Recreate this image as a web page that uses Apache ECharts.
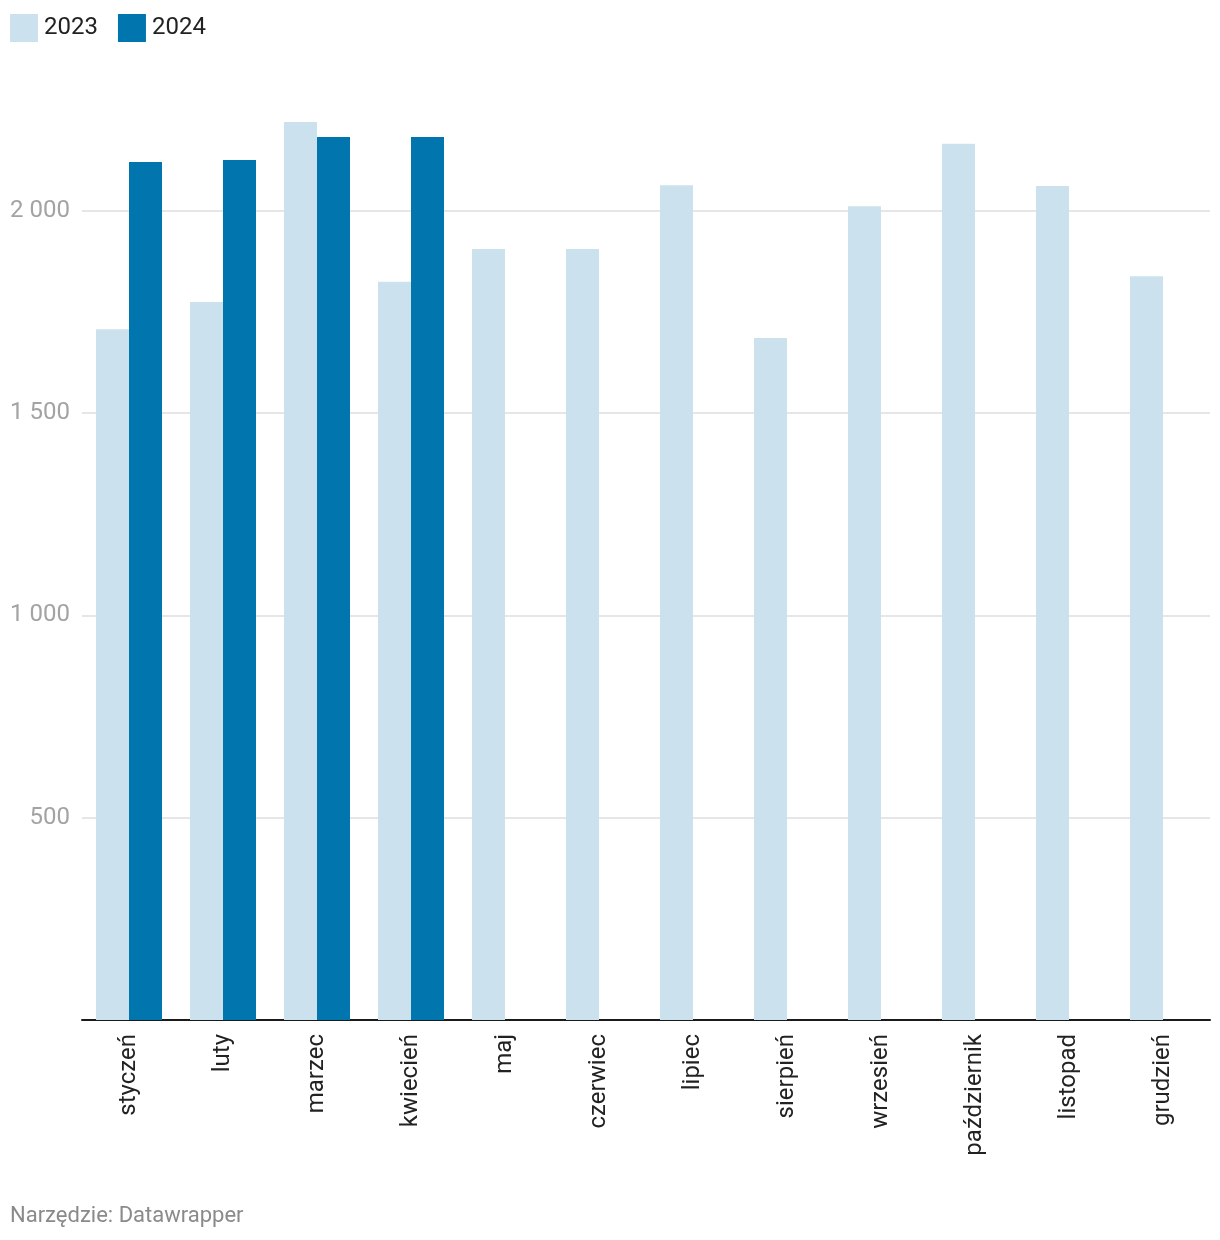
<!DOCTYPE html>
<html>
<head>
<meta charset="utf-8">
<script src="https://cdn.jsdelivr.net/npm/echarts@6/dist/echarts.min.js"></script>
<style>
  html, body { margin: 0; padding: 0; background: #ffffff; }
  #chart { width: 1220px; height: 1240px; }
</style>
</head>
<body>
<div id="chart"></div>
<script>
const categories = ['styczeń', 'luty', 'marzec', 'kwiecień', 'maj', 'czerwiec', 'lipiec', 'sierpień', 'wrzesień', 'październik', 'listopad', 'grudzień'];
const values2023 = [1707, 1774, 2219, 1824, 1905, 1905, 2063, 1685, 2011, 2165, 2061, 1838];
const values2024 = [2120, 2125, 2182, 2182, null, null, null, null, null, null, null, null];
const seriesNames = ['2023', '2024'];
const footerText = 'Narzędzie: Datawrapper';

const FONT = 'Roboto, "Noto Sans", sans-serif';
const chart = echarts.init(document.getElementById('chart'), null, { renderer: 'canvas' });

function fmt(v) {
  return String(v).replace(/\B(?=(\d{3})+(?!\d))/g, ' ');
}

chart.setOption({
  animation: false,
  backgroundColor: '#ffffff',
  textStyle: { fontFamily: FONT },
  legend: {
    left: 10,
    top: 14,
    padding: 0,
    icon: 'rect',
    itemWidth: 28,
    itemHeight: 28,
    itemGap: 20,
    textStyle: { fontFamily: FONT, fontSize: 24, color: '#222222', padding: [0, 0, 0, 1] },
    data: seriesNames
  },
  grid: { left: 82, right: 10, top: 8.3, bottom: 220, containLabel: false },
  xAxis: {
    type: 'category',
    data: categories,
    axisLine: { show: true, lineStyle: { color: '#1a1a1a', width: 2 } },
    axisTick: { show: false },
    axisLabel: {
      rotate: 90,
      margin: 14,
      fontFamily: FONT,
      fontSize: 24,
      color: '#222222',
      interval: 0
    }
  },
  yAxis: {
    type: 'value',
    min: 0,
    max: 2500,
    interval: 500,
    axisLine: { show: false },
    axisTick: { show: false },
    splitLine: { show: true, showMinLine: false, showMaxLine: false, lineStyle: { color: '#e6e6e6', width: 2 } },
    axisLabel: {
      showMinLabel: false,
      showMaxLabel: false,
      margin: 12,
      fontFamily: FONT,
      fontSize: 24,
      color: '#a3a3a3',
      formatter: fmt
    }
  },
  series: [
    {
      name: seriesNames[0],
      type: 'bar',
      data: values2023,
      barWidth: 33,
      barGap: '0%',
      itemStyle: { color: '#cbe2ee' }
    },
    {
      name: seriesNames[1],
      type: 'bar',
      data: values2024,
      barWidth: 33,
      barGap: '0%',
      itemStyle: { color: '#0175ad' }
    }
  ],
  graphic: [
    {
      type: 'text',
      left: 10,
      top: 1205,
      style: { text: footerText, fontFamily: FONT, fontSize: 22, fill: '#8a8a8a' }
    }
  ]
});
</script>
</body>
</html>
